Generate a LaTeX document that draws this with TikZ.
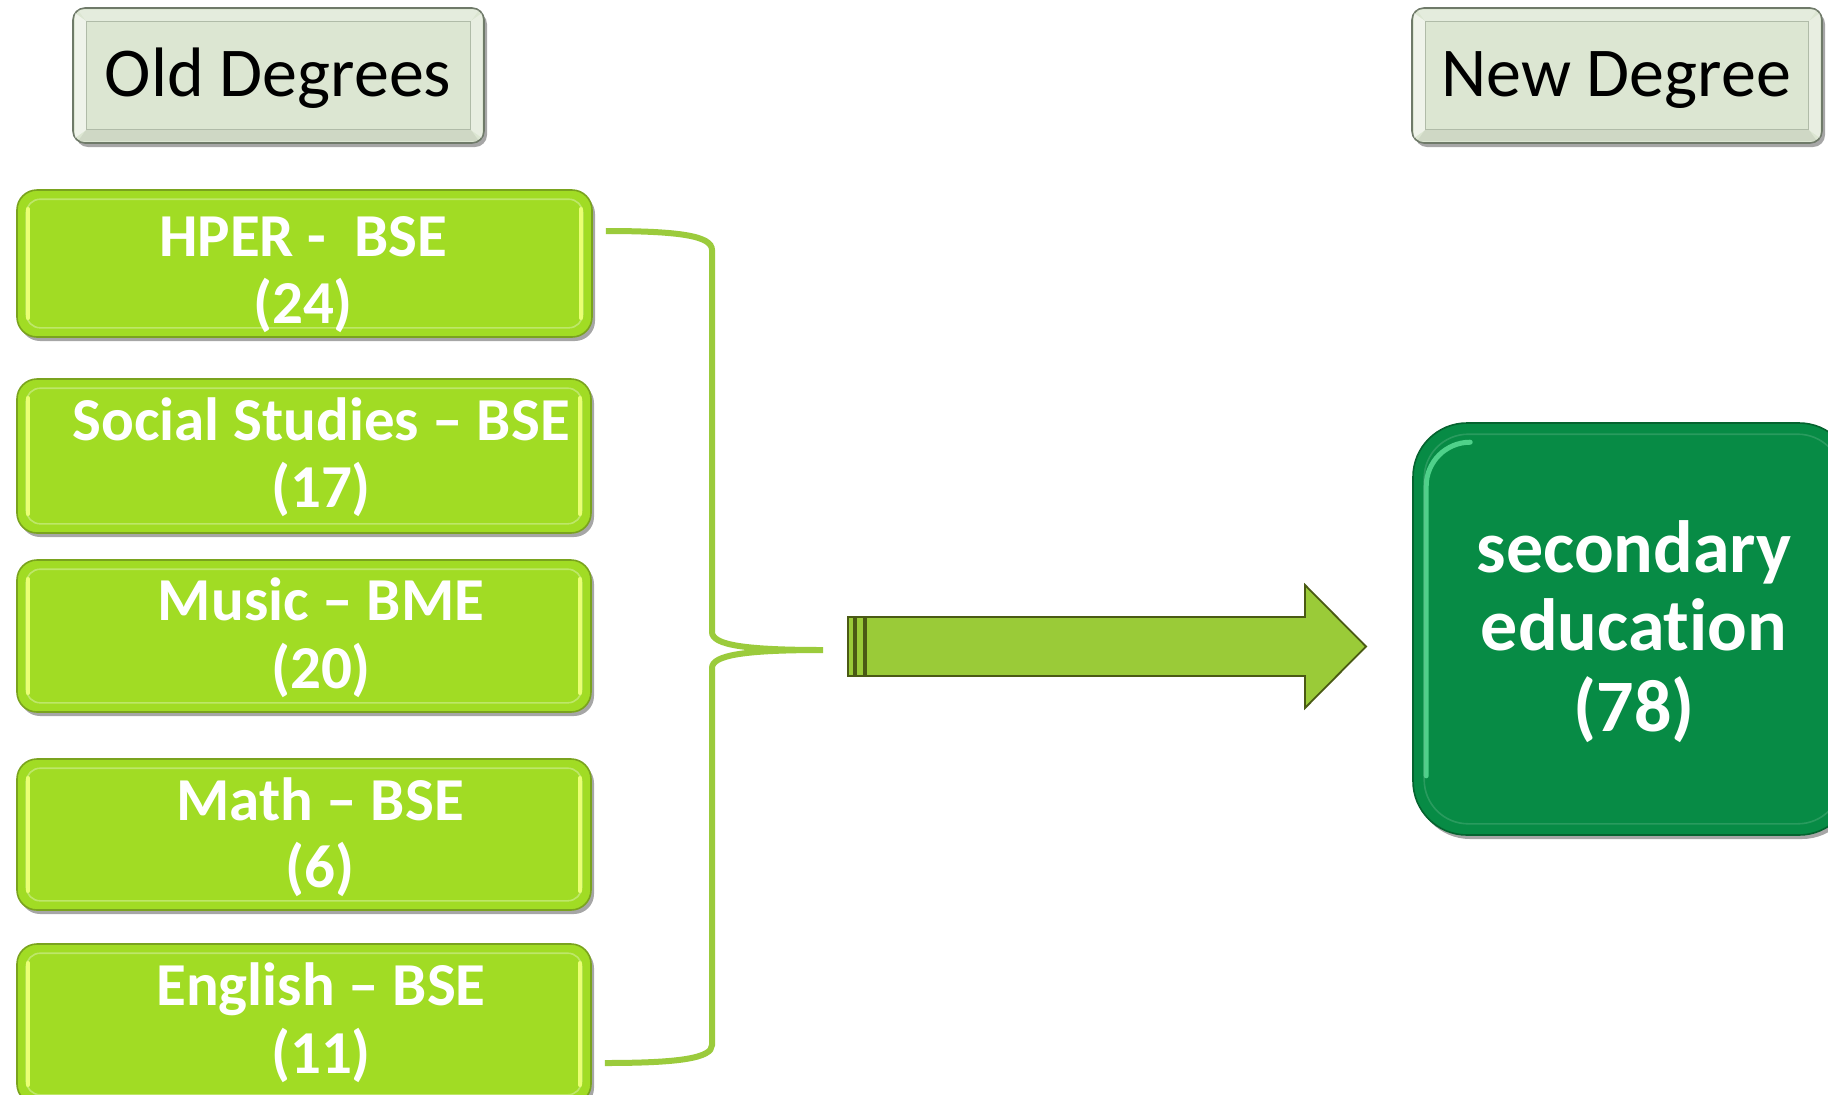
\documentclass[tikz,border=0pt]{standalone}
\usepackage{fontspec}
\setmainfont{Carlito}[Ligatures={NoCommon},RawFeature={-liga;-dlig;-calt}]
\usetikzlibrary{shadows,calc}
\definecolor{gfill}{HTML}{A1DC24}
\definecolor{gbord}{HTML}{7AA31E}
\definecolor{ghl}{HTML}{EAFF74}
\definecolor{hfill}{HTML}{DCE6D2}
\definecolor{hbord}{HTML}{6F7A69}
\definecolor{sfill}{HTML}{078B45}
\definecolor{sbord}{HTML}{05632F}
\definecolor{shl}{HTML}{62E39C}
\definecolor{bracecol}{HTML}{9BCB3C}
\definecolor{arrfill}{HTML}{9ACB38}
\definecolor{arrdraw}{HTML}{4A5A14}
\tikzset{
  shad/.style={drop shadow={shadow xshift=1.5pt,shadow yshift=-2pt,fill=black,opacity=.35}},
  headbox/.style={draw=hbord,line width=0.8pt,fill=hfill,rounded corners=6pt,inner sep=0pt,shad},
  greenbox/.style={draw=gbord,line width=0.8pt,fill=gfill,rounded corners=10pt,inner sep=0pt,shad},
  secbox/.style={draw=sbord,line width=0.8pt,fill=sfill,rounded corners=27pt,inner sep=0pt,shad},
  headtext/.style={text=black,font=\fontsize{35}{40}\selectfont,anchor=base,inner sep=0pt},
  gtext/.style={text=white,font=\bfseries\fontsize{30.5}{34}\selectfont,anchor=base,inner sep=0pt},
  stext/.style={text=white,font=\bfseries\fontsize{37}{42}\selectfont,anchor=base,inner sep=0pt},
  bracestyle/.style={draw=bracecol,line width=3pt},
  arrowstyle/.style={fill=arrfill,draw=arrdraw,line width=0.9pt,line join=miter},
}
\newcommand\gbevel[1]{%
  \draw[gfill!55!white,rounded corners=7pt,line width=.8pt,opacity=.7]
    ([shift={(5pt,-5pt)}]#1.north west) rectangle ([shift={(-5pt,5pt)}]#1.south east);
  \draw[ghl,line width=2.2pt,line cap=round]
    ([shift={(6pt,-10pt)}]#1.north west) -- ([shift={(6pt,10pt)}]#1.south west);
  \draw[ghl,line width=2.2pt,line cap=round]
    ([shift={(-6pt,-10pt)}]#1.north east) -- ([shift={(-6pt,10pt)}]#1.south east);
}
\newcommand\hbevel[1]{%
  \coordinate (#1iNW) at ([shift={(7pt,-7pt)}]#1.north west);
  \coordinate (#1iNE) at ([shift={(-7pt,-7pt)}]#1.north east);
  \coordinate (#1iSW) at ([shift={(7pt,7pt)}]#1.south west);
  \coordinate (#1iSE) at ([shift={(-7pt,7pt)}]#1.south east);
  \fill[white,opacity=.55] ([shift={(1.5pt,-3pt)}]#1.north west) -- (#1iNW) -- (#1iSW) -- ([shift={(1.5pt,3pt)}]#1.south west) -- cycle;
  \fill[white,opacity=.35] ([shift={(-1.5pt,-3pt)}]#1.north east) -- (#1iNE) -- (#1iSE) -- ([shift={(-1.5pt,3pt)}]#1.south east) -- cycle;
  \fill[white,opacity=.25] ([shift={(3pt,-1.5pt)}]#1.north west) -- (#1iNW) -- (#1iNE) -- ([shift={(-3pt,-1.5pt)}]#1.north east) -- cycle;
  \fill[black,opacity=.06] ([shift={(3pt,1.5pt)}]#1.south west) -- (#1iSW) -- (#1iSE) -- ([shift={(-3pt,1.5pt)}]#1.south east) -- cycle;
  \draw[hbord!40!hfill,line width=.4pt] (#1iNW) rectangle (#1iSE);
}
\begin{document}
\begin{tikzpicture}[x=0.5pt,y=-0.5pt]
\useasboundingbox[fill=white] (0,0) rectangle (1828,1094);

% header boxes
\node[headbox,minimum width=205.5pt,minimum height=67.5pt] (old) at (278.5,75.5) {};
\hbevel{old}
\node[headtext] (oldt) at (278,96) {Old Degrees};
\node[headbox,minimum width=205pt,minimum height=67.5pt] (new) at (1617,75.5) {};
\hbevel{new}
\node[headtext] (newt) at (1616,96) {New Degree};

% old degree boxes
\node[greenbox,minimum width=287.5pt,minimum height=73.5pt] (hper) at (304.5,263.5) {};
\gbevel{hper}
\node[gtext] (hper1) at (303,256) {HPER -\ \ BSE};
\node[gtext] (hper2) at (303,323) {(24)};

\node[greenbox,minimum width=287pt,minimum height=77pt] (soc) at (304,456) {};
\gbevel{soc}
\node[gtext] (soc1) at (321,440) {Social Studies – BSE};
\node[gtext] (soc2) at (321,507) {(17)};

\node[greenbox,minimum width=287pt,minimum height=76pt] (mus) at (304,636) {};
\gbevel{mus}
\node[gtext] (mus1) at (321,620) {Music – BME};
\node[gtext] (mus2) at (321,688) {(20)};

\node[greenbox,minimum width=287pt,minimum height=75.5pt] (mat) at (304,834.5) {};
\gbevel{mat}
\node[gtext] (mat1) at (320,820) {Math – BSE};
\node[gtext] (mat2) at (320,887) {(6)};

\node[greenbox,minimum width=287pt,minimum height=80pt] (eng) at (304,1024) {};
\gbevel{eng}
\node[gtext] (eng1) at (321,1005) {English – BSE};
\node[gtext] (eng2) at (321,1073) {(11)};

% new degree box
\node[secbox,minimum width=220pt,minimum height=206pt] (sec) at (1633,629) {};
\draw[shl,line width=2.5pt,opacity=.8,line cap=round]
  ([shift={(7pt,30pt)}]sec.south west) -- ([shift={(7pt,-32pt)}]sec.north west)
  arc[start angle=180,end angle=90,radius=22pt];
\draw[sfill!60!white,line width=.8pt,opacity=.35,rounded corners=22pt]
  ([shift={(6pt,-6pt)}]sec.north west) rectangle ([shift={(-6pt,6pt)}]sec.south east);
\node[stext] (sec1) at (1634,572) {secondary};
\node[stext] (sec2) at (1634,650) {educat\kern0pt ion};
\node[stext] (sec3) at (1634,731) {(78)};

% brace
\coordinate (bt) at ($(hper.east)+(13,-32.5)$);
\coordinate (bb) at ($(eng.east)+(13,39)$);
\coordinate (tip) at (823,650);
\draw[bracestyle] (bt) .. controls (680,231) and (712,236) .. (712,250)
  -- (712,632) .. controls (712,645) and (745,650) .. (tip)
  .. controls (745,650) and (712,655) .. (712,668)
  -- (712,1045) .. controls (712,1058) and (680,1063) .. (bb);

% block arrow
\coordinate (atail) at (848,646.5);
\coordinate (ahead) at (1366,646.5);
\draw[arrowstyle] ($(atail)+(0,-29.5)$) rectangle ($(atail)+(6,29.5)$);
\draw[arrowstyle] ($(atail)+(8,-29.5)$) rectangle ($(atail)+(16,29.5)$);
\draw[arrowstyle] ($(atail)+(18,-29.5)$) -- (1305,617) -- (1305,585) -- (ahead)
  -- (1305,708) -- (1305,676) -- ($(atail)+(18,29.5)$) -- cycle;
\end{tikzpicture}
\end{document}
